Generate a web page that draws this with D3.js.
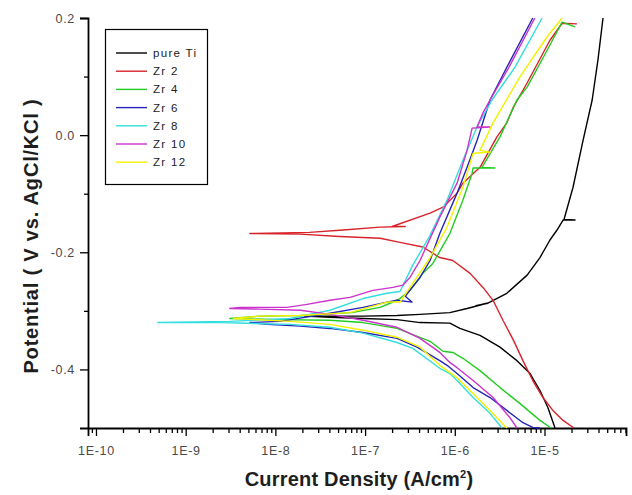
<!DOCTYPE html>
<html>
<head>
<meta charset="utf-8">
<script src="https://cdn.jsdelivr.net/npm/d3@7"></script>
<style>
  body { margin: 0; background: #fff; }
  text { font-family: "Liberation Sans", Arial, sans-serif; }
</style>
</head>
<body>
<div id="chart"></div>
<script>
// series names, in legend order
const seriesNames = ["pure Ti", "Zr 2", "Zr 4", "Zr 6", "Zr 8", "Zr 10", "Zr 12"]

// [current density (A/cm2), potential (V)], read along the sweep: cathodic end -> Ecorr -> anodic end
const pureTi = [
  [1.31e-5,-0.500],[1.09e-5,-0.465],[8.9e-6,-0.436],[6.9e-6,-0.407],[4.93e-6,-0.385],[3.19e-6,-0.362],
  [1.91e-6,-0.342],[1.14e-6,-0.330],[8.8e-7,-0.321],[4.1e-7,-0.320],[2.27e-7,-0.315],[9.5e-8,-0.313],
  [4.06e-8,-0.311],[2.1e-8,-0.309],
  [4.06e-8,-0.309],[9.5e-8,-0.309],[2.27e-7,-0.308],[4.1e-7,-0.306],[8.8e-7,-0.303],[1.37e-6,-0.296],
  [2.29e-6,-0.287],[1.72e-6,-0.291],[2.34e-6,-0.287],[3.8e-6,-0.270],[6.4e-6,-0.239],[8.9e-6,-0.209],
  [1.15e-5,-0.179],[1.38e-5,-0.162],[1.61e-5,-0.145],[2.19e-5,-0.145],[1.65e-5,-0.144],[2.08e-5,-0.089],
  [2.69e-5,-0.009],[3.4e-5,0.060],[3.94e-5,0.128],[4.49e-5,0.200]
]

const zr2 = [
  [2.13e-5,-0.500],[1.61e-5,-0.487],[1.24e-5,-0.470],[9.6e-6,-0.448],[7.4e-6,-0.419],[5.75e-6,-0.385],
  [4.5e-6,-0.350],[3.44e-6,-0.316],[2.67e-6,-0.282],[2.06e-6,-0.260],[1.48e-6,-0.236],[9.5e-7,-0.214],
  [6.8e-7,-0.209],[4.4e-7,-0.191],[2.45e-7,-0.183],[1.47e-7,-0.176],[5.2e-8,-0.173],[1.9e-8,-0.169],
  [5.2e-9,-0.168],
  [2.4e-8,-0.166],[5.7e-8,-0.162],[1.47e-7,-0.157],[2.8e-7,-0.156],[2.0e-7,-0.156],[5.3e-7,-0.133],
  [7.4e-7,-0.123],[1.06e-6,-0.099],[1.23e-6,-0.082],[1.91e-6,-0.055],[2.95e-6,-0.003],[3.8e-6,0.021],
  [4.5e-6,0.048],[6.4e-6,0.089],[1.15e-5,0.162],[1.57e-5,0.191],[2.3e-5,0.190]
]

const zr4 = [
  [1.18e-5,-0.500],[8.9e-6,-0.487],[5.3e-6,-0.458],[3.19e-6,-0.431],[1.91e-6,-0.402],[1.23e-6,-0.381],
  [9.5e-7,-0.371],[7.4e-7,-0.369],[5.3e-7,-0.352],[2.27e-7,-0.330],[9.5e-8,-0.320],[4.06e-8,-0.316],
  [1.12e-8,-0.315],[3.1e-9,-0.313],
  [6.7e-9,-0.309],[1.9e-8,-0.308],[7.1e-8,-0.303],[1.47e-7,-0.294],[1.9e-7,-0.287],[2.45e-7,-0.279],
  [3.16e-7,-0.265],[4.4e-7,-0.236],[5.7e-7,-0.219],[8.8e-7,-0.168],[1.23e-6,-0.111],[1.56e-6,-0.065],
  [1.6e-6,-0.056],[2.8e-6,-0.056],[2.01e-6,-0.055],[3.19e-6,-0.003],[4.93e-6,0.060],[6.4e-6,0.082],
  [1.07e-5,0.145],[1.57e-5,0.193],[2.19e-5,0.185]
]

const zr6 = [
  [8.9e-6,-0.500],[7.4e-6,-0.499],[5.75e-6,-0.491],[3.8e-6,-0.470],[2.47e-6,-0.448],[1.6e-6,-0.431],
  [1.06e-6,-0.407],[8.2e-7,-0.393],[6.8e-7,-0.385],[3.8e-7,-0.362],[2.27e-7,-0.347],[9.5e-8,-0.337],
  [4.06e-8,-0.330],[1.9e-8,-0.326],[8.1e-9,-0.323],[5.2e-9,-0.320],
  [1.12e-8,-0.318],[4.06e-8,-0.304],[9.5e-8,-0.294],[1.75e-7,-0.285],[2.27e-7,-0.282],[3.33e-7,-0.285],
  [2.8e-7,-0.275],[4.1e-7,-0.243],[5.3e-7,-0.214],[6.8e-7,-0.168],[1.06e-6,-0.099],[1.37e-6,-0.055],
  [1.77e-6,-0.009],[2.47e-6,0.060],[3.8e-6,0.116],[7.4e-6,0.200]
]

const zr8 = [
  [3.36e-6,-0.500],[2.47e-6,-0.475],[1.6e-6,-0.448],[1.06e-6,-0.419],[8.8e-7,-0.407],[6.8e-7,-0.398],
  [3.4e-7,-0.364],[2.27e-7,-0.354],[9.5e-8,-0.338],[4.06e-8,-0.328],[1.46e-8,-0.323],[2.4e-9,-0.320],
  [4.9e-10,-0.320],
  [3.1e-9,-0.318],[1.46e-8,-0.313],[4.06e-8,-0.299],[9.5e-8,-0.279],[1.75e-7,-0.270],[2.45e-7,-0.267],
  [3.4e-7,-0.222],[5.3e-7,-0.171],[8.2e-7,-0.111],[1.23e-6,-0.043],[1.77e-6,0.014],[2.6e-6,0.060],
  [4.69e-6,0.116],[9.4e-6,0.200]
]

const zr10 = [
  [4.93e-6,-0.500],[4.1e-6,-0.482],[2.67e-6,-0.448],[1.6e-6,-0.419],[1.06e-6,-0.397],[8.8e-7,-0.388],
  [6.8e-7,-0.371],[4.1e-7,-0.347],[2.27e-7,-0.328],[9.5e-8,-0.316],[4.06e-8,-0.306],[1.9e-8,-0.299],
  [6.7e-9,-0.297],[3.1e-9,-0.296],
  [4.0e-9,-0.294],[1.35e-8,-0.294],[2.25e-8,-0.289],[4.06e-8,-0.282],[6.8e-8,-0.277],[1.22e-7,-0.265],
  [2.05e-7,-0.260],[2.65e-7,-0.256],[3.16e-7,-0.243],[4.1e-7,-0.214],[6.8e-7,-0.140],[1.06e-6,-0.082],
  [1.37e-6,-0.026],[1.56e-6,0.012],[2.47e-6,0.014],[1.77e-6,0.014],[2.06e-6,0.038],[2.47e-6,0.060],
  [4.02e-6,0.116],[7.8e-6,0.200]
]

const zr12 = [
  [3.8e-6,-0.500],[2.47e-6,-0.470],[1.6e-6,-0.441],[1.06e-6,-0.414],[6.8e-7,-0.393],[4.1e-7,-0.362],
  [2.27e-7,-0.345],[9.5e-8,-0.333],[4.06e-8,-0.323],[1.46e-8,-0.318],[3.4e-9,-0.313],
  [6.7e-9,-0.309],[1.9e-8,-0.308],[6.8e-8,-0.303],[1.75e-7,-0.285],[2.45e-7,-0.285],[3.4e-7,-0.253],
  [5.3e-7,-0.209],[8.2e-7,-0.157],[1.23e-6,-0.089],[1.6e-6,-0.031],[2.47e-6,-0.029],[1.91e-6,-0.026],
  [2.67e-6,0.021],[5.3e-6,0.099],[1.07e-5,0.168],[1.57e-5,0.200]
]

const seriesData = [pureTi, zr2, zr4, zr6, zr8, zr10, zr12]
const seriesColors = ["#000000", "#d8232a", "#22cc22", "#2525b8", "#33dede", "#cc33cc", "#f2f200"]

// axis ranges
const xDomain = [8.15e-11, 8.1e-5]
const yDomain = [-0.5, 0.2]
const xMajor = [1e-10, 1e-9, 1e-8, 1e-7, 1e-6, 1e-5]
const xLabels = ["1E-10", "1E-9", "1E-8", "1E-7", "1E-6", "1E-5"]
const yTickValues = [-0.4, -0.3, -0.2, -0.1, 0.0, 0.1, 0.2]
const yLabelled = [-0.4, -0.2, 0.0, 0.2]

const w = 632
const h = 495

const svg = d3.select("#chart")
  .append("svg")
  .attr("width", w)
  .attr("height", h)

const x = d3.scaleLog().domain(xDomain).range([88, 626])
const y = d3.scaleLinear().domain(yDomain).range([428, 18])

// x axis: decades labelled, minor ticks in between
const xTicks = x.ticks().filter(t => t >= xDomain[0] && t <= xDomain[1])
const isMajor = t => xMajor.some(m => Math.abs(t / m - 1) < 1e-6)

const xAxis = svg.append("g")
  .attr("transform", "translate(0,428)")
  .call(d3.axisBottom(x)
    .tickValues(xTicks)
    .tickSizeOuter(0)
    .tickSize(8)
    .tickPadding(10)
    .tickFormat(t => {
      let k = xMajor.findIndex(m => Math.abs(t / m - 1) < 1e-6)
      return k >= 0 ? xLabels[k] : ""
    }))

xAxis.selectAll(".tick")
  .filter(t => !isMajor(t))
  .select("line")
  .attr("y2", 5)

// y axis
const yAxis = svg.append("g")
  .attr("transform", "translate(88,0)")
  .call(d3.axisLeft(y)
    .tickValues(yTickValues)
    .tickSizeOuter(0)
    .tickSize(8)
    .tickPadding(5)
    .tickFormat(v => {
      let r = Math.round(v * 10) / 10
      return yLabelled.some(l => Math.abs(l - r) < 1e-9) ? (r === 0 ? "0.0" : r.toFixed(1)) : ""
    }))

yAxis.selectAll(".tick")
  .filter(v => !yLabelled.some(l => Math.abs(l - v) < 1e-9))
  .select("line")
  .attr("x2", -4)

svg.selectAll(".domain").attr("stroke", "#000").attr("stroke-width", 1.8)
svg.selectAll(".tick line").attr("stroke", "#000").attr("stroke-width", 1.3)
svg.selectAll(".tick text")
  .attr("fill", "#4a4a4a")
  .style("font-size", "12.5px")
  .style("letter-spacing", "0.7px")

// curves
const line = d3.line()
  .x(d => x(d[0]))
  .y(d => y(d[1]))

svg.append("g")
  .selectAll("path")
  .data(seriesData)
  .enter()
  .append("path")
  .attr("d", line)
  .attr("fill", "none")
  .attr("stroke", (d, i) => seriesColors[i])
  .attr("stroke-width", 1.4)
  .attr("stroke-linejoin", "round")

// legend
const legend = svg.append("g")

legend.append("rect")
  .attr("x", 105.5)
  .attr("y", 29.5)
  .attr("width", 102)
  .attr("height", 155)
  .attr("fill", "#fff")
  .attr("stroke", "#000")
  .attr("stroke-width", 1.2)

const items = legend.selectAll(".item")
  .data(seriesNames)
  .enter()
  .append("g")
  .attr("class", "item")
  .attr("transform", (d, i) => `translate(0,${53 + i * 18.2})`)

items.append("line")
  .attr("x1", 116)
  .attr("x2", 147)
  .attr("stroke", (d, i) => seriesColors[i])
  .attr("stroke-width", 1.4)

items.append("text")
  .attr("x", 153)
  .attr("dy", "0.35em")
  .attr("fill", "#222")
  .style("font-size", "11.5px")
  .style("letter-spacing", "1.3px")
  .text(d => d)

// axis titles
svg.append("text")
  .attr("x", 359)
  .attr("y", 486)
  .attr("text-anchor", "middle")
  .attr("font-weight", "bold")
  .style("font-size", "20px")
  .style("letter-spacing", "0.2px")
  .attr("fill", "#1e1e1e")
  .html('Current Density (A/cm<tspan dy="-8" font-size="11px">2</tspan><tspan dy="8">)</tspan>')

svg.append("text")
  .attr("transform", "translate(38,236) rotate(-90)")
  .attr("text-anchor", "middle")
  .attr("font-weight", "bold")
  .style("font-size", "20px")
  .style("letter-spacing", "0.8px")
  .attr("fill", "#1e1e1e")
  .text("Potential ( V vs. AgCl/KCl )")
</script>
</body>
</html>
